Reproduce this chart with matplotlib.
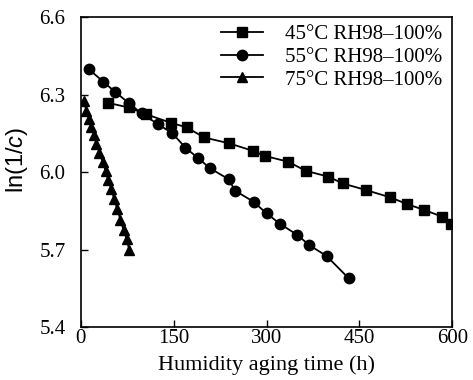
import matplotlib
matplotlib.use("Agg")
import matplotlib.pyplot as plt

plt.rcParams['font.family'] = ['Liberation Serif', 'DejaVu Serif']
plt.rcParams['mathtext.fontset'] = 'custom'
plt.rcParams['mathtext.it'] = 'Liberation Sans:italic'
plt.rcParams['mathtext.rm'] = 'Liberation Sans'

# 45 °C RH98-100%
t45 = [44, 77, 105, 145, 171, 199, 240, 278, 298, 335, 363, 400, 423, 461, 500, 527, 555, 584, 598]
y45 = [6.268, 6.250, 6.224, 6.191, 6.173, 6.134, 6.111, 6.082, 6.062, 6.040, 6.005, 5.982,
       5.956, 5.930, 5.902, 5.876, 5.853, 5.827, 5.799]

# 55 °C RH98-100%
t55 = [13, 36, 55, 78, 98, 124, 148, 169, 190, 209, 239, 249, 279, 300, 322, 350, 369, 397, 433]
y55 = [6.398, 6.350, 6.311, 6.266, 6.227, 6.186, 6.150, 6.094, 6.053, 6.014, 5.972, 5.928,
       5.885, 5.840, 5.799, 5.756, 5.717, 5.675, 5.588]

# 75 °C RH98-100%
t75 = [5, 9, 13, 17, 21, 25, 30, 35, 40, 44, 49, 54, 59, 64, 69, 74, 78]
y75 = [6.275, 6.235, 6.205, 6.175, 6.145, 6.110, 6.075, 6.040, 6.005, 5.970, 5.935, 5.895,
       5.855, 5.815, 5.775, 5.740, 5.700]

labels = ['45\u00b0C RH98\u2013100%', '55\u00b0C RH98\u2013100%', '75\u00b0C RH98\u2013100%']

xticks = [0, 150, 300, 450, 600]
yticks = [5.4, 5.7, 6.0, 6.3, 6.6]

fig = plt.figure(figsize=(4.73, 3.80), dpi=100)
ax = fig.add_axes([0.171, 0.1395, 0.785, 0.8155])

kw = dict(color='black', lw=1.3)
ax.plot(t45, y45, marker='s', ms=7.5, label=labels[0], **kw)
ax.plot(t55, y55, marker='o', ms=7.5, label=labels[1], **kw)
ax.plot(t75, y75, marker='^', ms=7.5, label=labels[2], **kw)

ax.set_xlim(0, 600)
ax.set_ylim(5.4, 6.6)
ax.set_xticks(xticks)
ax.set_yticks(yticks)
ax.set_yticklabels([f'{v:.1f}' for v in yticks])
ax.tick_params(direction='in', length=5, width=1, labelsize=15)
ax.tick_params(axis='x', pad=1.5)
ax.tick_params(axis='y', pad=11)
for s in ax.spines.values():
    s.set_linewidth(1.2)

ax.set_xlabel('Humidity aging time (h)', fontsize=16)
ax.xaxis.set_label_coords(0.5, -0.092)
ax.set_ylabel('ln(1/$\\it{c}$)', fontsize=17, family='Liberation Sans')
ax.yaxis.set_label_coords(-0.138, 0.54)

leg = ax.legend(loc='upper right', bbox_to_anchor=(0.972, 0.976), frameon=False, fontsize=15,
                handlelength=2.0, handletextpad=1.05, labelspacing=0.15,
                borderaxespad=0.0, borderpad=0.0)

fig.savefig('out.png', dpi=100)
